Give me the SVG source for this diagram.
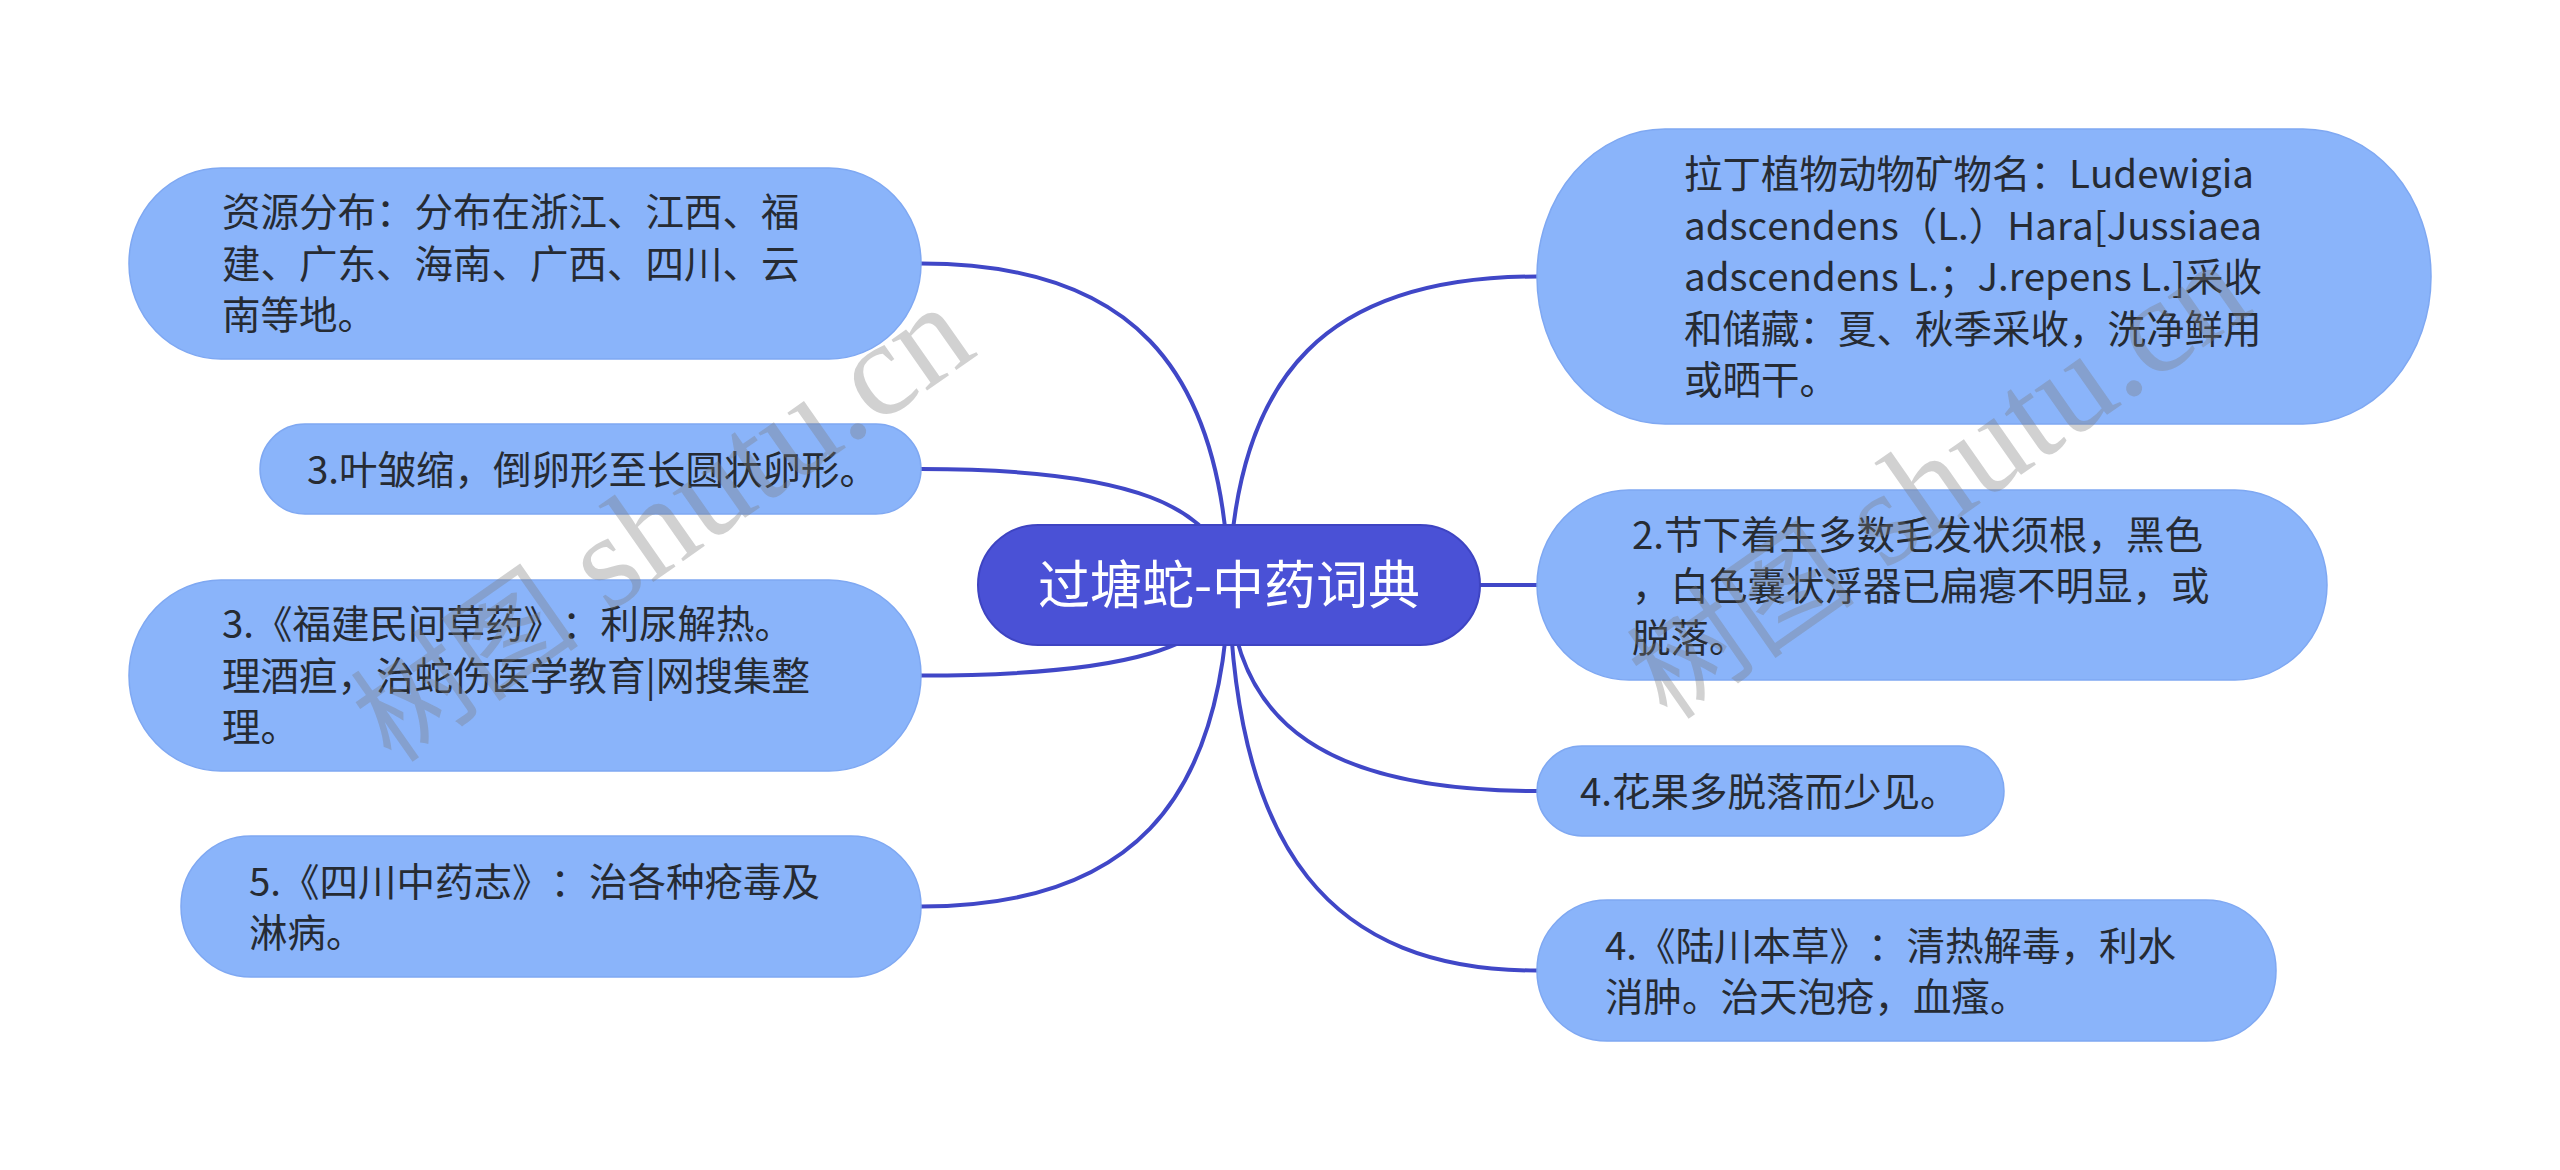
<svg xmlns="http://www.w3.org/2000/svg" width="2560" height="1170" viewBox="0 0 2560 1170">
<style>
.bg{fill:#ffffff}
.link{fill:none;stroke:#4047c7;stroke-width:4;stroke-linecap:round}
.child{fill:#8ab4fa;stroke:#7fa8f2;stroke-width:1.5}
.root{fill:#4a51d6;stroke:#3e44c2;stroke-width:2}
text{text-spacing-trim:space-all;font-kerning:none}
.t{font-family:"Noto Sans CJK SC","Noto Sans",sans-serif;font-size:38.5px;fill:#262b33}
.rt{font-family:"Noto Sans CJK SC","Noto Sans",sans-serif;font-size:52px;fill:#ffffff;text-anchor:middle}
.wm{font-family:"Liberation Serif","Noto Sans CJK SC",serif;font-size:115px;fill:#7a7a7a;fill-opacity:0.35}
.wl{font-size:135px}
</style>
<rect class="bg" x="0" y="0" width="2560" height="1170"/>
<g id="connectors">
<path class="link" d="M1229,585 C1223,363 1127,263.5 921,263.5"/>
<path class="link" d="M1229,585 C1223,505 1127,469 921,469"/>
<path class="link" d="M1229,585 C1223,647 1127,675.5 921,675.5"/>
<path class="link" d="M1229,585 C1223,806 1127,906.5 921,906.5"/>
<path class="link" d="M1229,585 C1235,371 1330,276.5 1537,276.5"/>
<path class="link" d="M1229,585 L1537,585"/>
<path class="link" d="M1229,585 C1235,726 1330,791 1537,791"/>
<path class="link" d="M1229,585 C1235,850 1330,970.5 1537,970.5"/>
</g>
<g id="node-root">
<rect class="root" x="978" y="525" width="502" height="120" rx="60" ry="60"/>
<text class="rt" x="1229" y="604">过塘蛇-中药词典</text>
</g>
<g id="node-ziyuan">
<rect class="child" x="129" y="168" width="792" height="191" rx="92" ry="95"/>
<text class="t"><tspan x="222" y="226">资源分布：分布在浙江、江西、福</tspan><tspan x="222" y="277.5">建、广东、海南、广西、四川、云</tspan><tspan x="222" y="329">南等地。</tspan></text>
</g>
<g id="node-ye">
<rect class="child" x="260" y="424" width="661" height="90" rx="45" ry="45"/>
<text class="t" x="307" y="483.5">3.叶皱缩，倒卵形至长圆状卵形。</text>
</g>
<g id="node-fujian">
<rect class="child" x="129" y="580" width="792" height="191" rx="92" ry="95"/>
<text class="t"><tspan x="222" y="638">3.《福建民间草药》：利尿解热。</tspan><tspan x="222" y="689.5">理酒疸，治蛇伤医学教育|网搜集整</tspan><tspan x="222" y="741">理。</tspan></text>
</g>
<g id="node-sichuan">
<rect class="child" x="181" y="836" width="740" height="141" rx="70" ry="70"/>
<text class="t"><tspan x="249" y="895.5">5.《四川中药志》：治各种疮毒及</tspan><tspan x="249" y="947">淋病。</tspan></text>
</g>
<g id="node-lading">
<rect class="child" x="1537" y="129" width="894" height="295" rx="128" ry="147"/>
<text class="t"><tspan x="1684" y="188">拉丁植物动物矿物名：Ludewigia</tspan><tspan x="1684" y="239.5">adscendens（L.）Hara[Jussiaea</tspan><tspan x="1684" y="291">adscendens L.；J.repens L.]采收</tspan><tspan x="1684" y="342.5">和储藏：夏、秋季采收，洗净鲜用</tspan><tspan x="1684" y="394">或晒干。</tspan></text>
</g>
<g id="node-jiexia">
<rect class="child" x="1537" y="490" width="790" height="190" rx="92" ry="95"/>
<text class="t"><tspan x="1632" y="548.5">2.节下着生多数毛发状须根，黑色</tspan><tspan x="1632" y="600">，白色囊状浮器已扁瘪不明显，或</tspan><tspan x="1632" y="651.5">脱落。</tspan></text>
</g>
<g id="node-huaguo">
<rect class="child" x="1537" y="746" width="467" height="90" rx="45" ry="45"/>
<text class="t" x="1580" y="805.5">4.花果多脱落而少见。</text>
</g>
<g id="node-luchuan">
<rect class="child" x="1537" y="900" width="739" height="141" rx="70" ry="70"/>
<text class="t"><tspan x="1605" y="959.5">4.《陆川本草》：清热解毒，利水</tspan><tspan x="1605" y="1011">消肿。治天泡疮，血瘙。</tspan></text>
</g>
<g id="watermarks">
<text class="wm" transform="translate(392,765) rotate(-35)">树图<tspan class="wl"> shutu.cn</tspan></text>
<text class="wm" transform="translate(1668,722) rotate(-35)">树图<tspan class="wl"> shutu.cn</tspan></text>
</g>
</svg>
